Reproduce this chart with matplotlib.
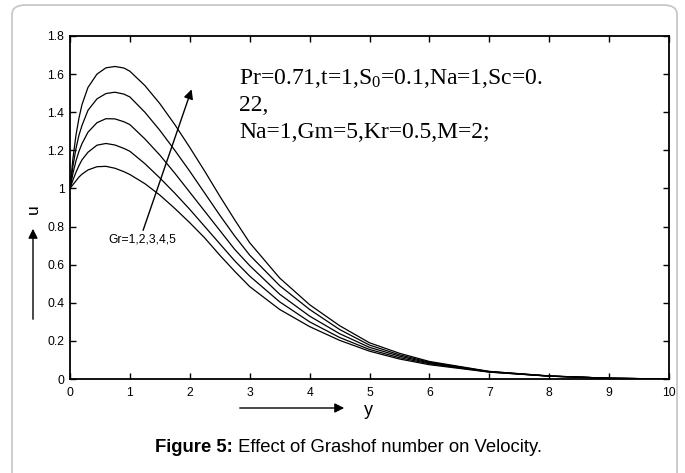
import matplotlib
matplotlib.use("Agg")
import matplotlib.pyplot as plt
from matplotlib.patches import FancyBboxPatch, FancyArrowPatch

plt.rcParams['font.family'] = ['Liberation Sans', 'DejaVu Sans']
plt.rcParams['mathtext.fontset'] = 'custom'
plt.rcParams['mathtext.rm'] = 'Liberation Serif'

# values
y_pos = [0, 0.05, 0.1, 0.15, 0.2, 0.3, 0.45, 0.6, 0.75, 0.9, 1.0, 1.25, 1.5,
         1.75, 2.0, 2.25, 2.5, 2.75, 3.0, 3.5, 4.0, 4.5, 5.0, 5.5, 6.0, 7.0,
         8.0, 9.0, 10.0]
u_gr1 = [1.00, 1.02, 1.04, 1.06, 1.075, 1.097, 1.114, 1.116, 1.106, 1.088, 1.073,
         1.025, 0.965, 0.895, 0.82, 0.74, 0.65, 0.565, 0.485, 0.365, 0.275, 0.203,
         0.146, 0.105, 0.075, 0.036, 0.015, 0.004, 0.0]
u_gr2 = [1.00, 1.045, 1.085, 1.12, 1.15, 1.19, 1.227, 1.236, 1.228, 1.21, 1.195,
         1.13, 1.055, 0.975, 0.89, 0.80, 0.71, 0.62, 0.54, 0.405, 0.30, 0.218,
         0.155, 0.112, 0.080, 0.037, 0.015, 0.004, 0.0]
u_gr3 = [1.00, 1.08, 1.145, 1.195, 1.235, 1.295, 1.345, 1.366, 1.365, 1.35, 1.335,
         1.26, 1.175, 1.08, 0.98, 0.88, 0.78, 0.68, 0.595, 0.445, 0.33, 0.238,
         0.166, 0.12, 0.084, 0.038, 0.015, 0.004, 0.0]
u_gr4 = [1.00, 1.12, 1.21, 1.28, 1.33, 1.41, 1.47, 1.498, 1.505, 1.495, 1.48,
         1.40, 1.305, 1.20, 1.09, 0.975, 0.86, 0.75, 0.65, 0.49, 0.365, 0.26,
         0.178, 0.127, 0.088, 0.039, 0.016, 0.004, 0.0]
u_gr5 = [1.00, 1.16, 1.28, 1.37, 1.44, 1.53, 1.60, 1.633, 1.64, 1.632, 1.615,
         1.54, 1.445, 1.335, 1.215, 1.09, 0.96, 0.835, 0.715, 0.53, 0.39, 0.28,
         0.19, 0.135, 0.092, 0.040, 0.016, 0.004, 0.0]
curves = [u_gr1, u_gr2, u_gr3, u_gr4, u_gr5]

xticks = list(range(0, 11))
yticks = [0, 0.2, 0.4, 0.6, 0.8, 1, 1.2, 1.4, 1.6, 1.8]
ytick_labels = ['0', '0.2', '0.4', '0.6', '0.8', '1', '1.2', '1.4', '1.6', '1.8']

W, H = 685, 473
fig = plt.figure(figsize=(6.85, 4.73), dpi=100)

# rounded frame around the figure
frame = FancyBboxPatch((12 / W, -0.05), 665 / W, 1.05 - 5 / H,
                       boxstyle="round,pad=0,rounding_size=0.02",
                       transform=fig.transFigure, fill=False,
                       edgecolor='#c4c4c4', linewidth=1.2)
fig.patches.append(frame)

ax = fig.add_axes([70 / W, 1 - 379 / H, 599 / W, 343 / H])
for u in curves:
    ax.plot(y_pos, u, color='black', linewidth=0.9)

ax.set_xlim(0, 10)
ax.set_ylim(0, 1.8)
ax.set_xticks(xticks)
ax.set_yticks(yticks)
ax.set_yticklabels(ytick_labels)
ax.tick_params(direction='in', length=4, width=1, top=True, right=True,
               labelsize=8.7)
ax.tick_params(axis='x', pad=6)
ax.tick_params(axis='y', pad=4)
for s in ax.spines.values():
    s.set_linewidth(1.3)

# parameter text
serif = 'Liberation Serif'
ax.text(2.82, 1.575, r"Pr=0.71,t=1,$\mathregular{S_0}$=0.1,Na=1,Sc=0.",
        family=serif, fontsize=17, va='center')
ax.text(2.82, 1.435, "22,", family=serif, fontsize=17, va='center')
ax.text(2.82, 1.295, "Na=1,Gm=5,Kr=0.5,M=2;", family=serif, fontsize=17,
        va='center')

# Gr arrow and label
ax.annotate("", xy=(2.03, 1.52), xytext=(1.22, 0.78),
            arrowprops=dict(arrowstyle='-|>', color='black', lw=1.0,
                            mutation_scale=14, shrinkA=0, shrinkB=0))
ax.text(1.2, 0.73, "Gr=1,2,3,4,5", fontsize=8.7, ha='center', va='center')

# axis labels with arrows
fig.text(33 / W, 1 - 209 / H, "u", rotation=90, fontsize=12.5,
         ha='center', va='center')
fig.patches.append(FancyArrowPatch(
    (33 / W, 1 - 322 / H), (33 / W, 1 - 226 / H),
    transform=fig.transFigure, arrowstyle='-|>', mutation_scale=14,
    color='black', lw=1.0))
fig.text(368 / W, 1 - 410 / H, "y", fontsize=13, ha='center', va='center')
fig.patches.append(FancyArrowPatch(
    (237 / W, 1 - 408 / H), (347 / W, 1 - 408 / H),
    transform=fig.transFigure, arrowstyle='-|>', mutation_scale=14,
    color='black', lw=1.0))

# caption: bold part followed by regular part
cap1 = fig.text(155 / W, 1 - 447 / H, "Figure 5:", fontsize=13.3,
                fontweight='bold', va='center')
fig.canvas.draw()
bb = cap1.get_window_extent()
fig.text(bb.x1 / W, 1 - 447 / H, " Effect of Grashof number on Velocity.",
         fontsize=13.3, va='center')

fig.savefig("out.png", dpi=100)
